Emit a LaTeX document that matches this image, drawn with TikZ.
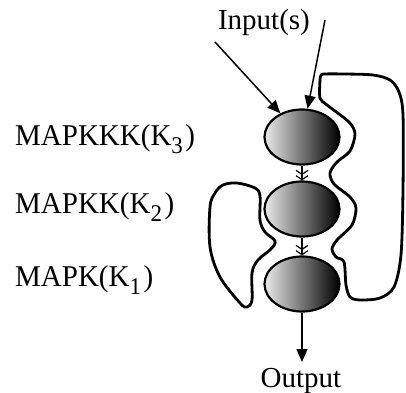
\documentclass[tikz,border=0pt]{standalone}
\usepackage{fontspec}
\setmainfont{Liberation Serif}
\usetikzlibrary{shapes.geometric,arrows.meta}
\newcommand\ksub[1]{\raisebox{-8bp}{\fontsize{23bp}{23bp}\selectfont #1}\hspace{2.5bp}}
\newcommand\klbl[1]{\scalebox{1}[1.04]{#1}}
\begin{document}
\begin{tikzpicture}[x=1bp,y=-1bp,
  kin/.style={ellipse,draw,line width=2.2bp,minimum width=75bp,minimum height=55bp,inner sep=0pt,left color=black!8,right color=black},
  loopline/.style={line width=2.8bp,line join=round},
  inarrow/.style={line width=1.5bp,-{Triangle[length=13bp,width=11bp]}},
  dbl/.style={line width=1.2bp,-{Straight Barb[length=4bp,width=12bp]Straight Barb[length=4bp,width=12bp]}},
  lbl/.style={font=\fontsize{29bp}{34bp}\selectfont,inner sep=0pt}]
\useasboundingbox (0,0) rectangle (406,393);
% feedback loops
\draw[loopline] plot[smooth cycle,tension=0.5] coordinates {
 (324,74) (345,74) (373,75) (390,80) (399,92) (403,115) (403,190) (401,255)
 (394,287) (380,298) (360,300) (350,297) (346,285) (344,262) (336,257) (332,249)
 (337,240) (352,225) (356,208) (350,197) (334,184) (330,173) (337,162) (350,151)
 (355,134) (349,122) (327,105) (320,98) (320,80) (321,75.5)};
\draw[loopline] plot[smooth cycle,tension=0.55] coordinates {
 (237,183) (255,188) (260,196) (260,220) (265,232) (275,241) (271,249) (258,260)
 (252,273) (252,300) (247,307) (240,303) (220,277) (210,247) (210,207) (215,193) (223,185)};
% kinases
\node[kin] (k3) at (302,137) {};
\node[kin] (k2) at (302,209) {};
\node[kin] (k1) at (302,284) {};
\draw[dbl] (k3) -- (k2);
\draw[dbl] (k2) -- (k1);
% inputs
\coordinate (in1) at (215,42);
\coordinate (in2) at (325,20);
\draw[inarrow] (in1) -- (k3);
\draw[inarrow] (in2) -- (k3);
\node[lbl,anchor=base] (inlbl) at (264,29) {Input(s)};
% output
\coordinate (outtip) at (302,362);
\draw[inarrow] (k1) -- (outtip);
\node[lbl,anchor=base] (outlbl) at (301,387) {Output};
% labels
\node[lbl,anchor=base west] (l3) at (15,145) {\klbl{MAPKKK(K\ksub{3})}};
\node[lbl,anchor=base west] (l2) at (15,213) {\klbl{MAPKK(K\ksub{2})}};
\node[lbl,anchor=base west] (l1) at (15,286) {\klbl{MAPK(K\ksub{1})}};
\end{tikzpicture}
\end{document}
